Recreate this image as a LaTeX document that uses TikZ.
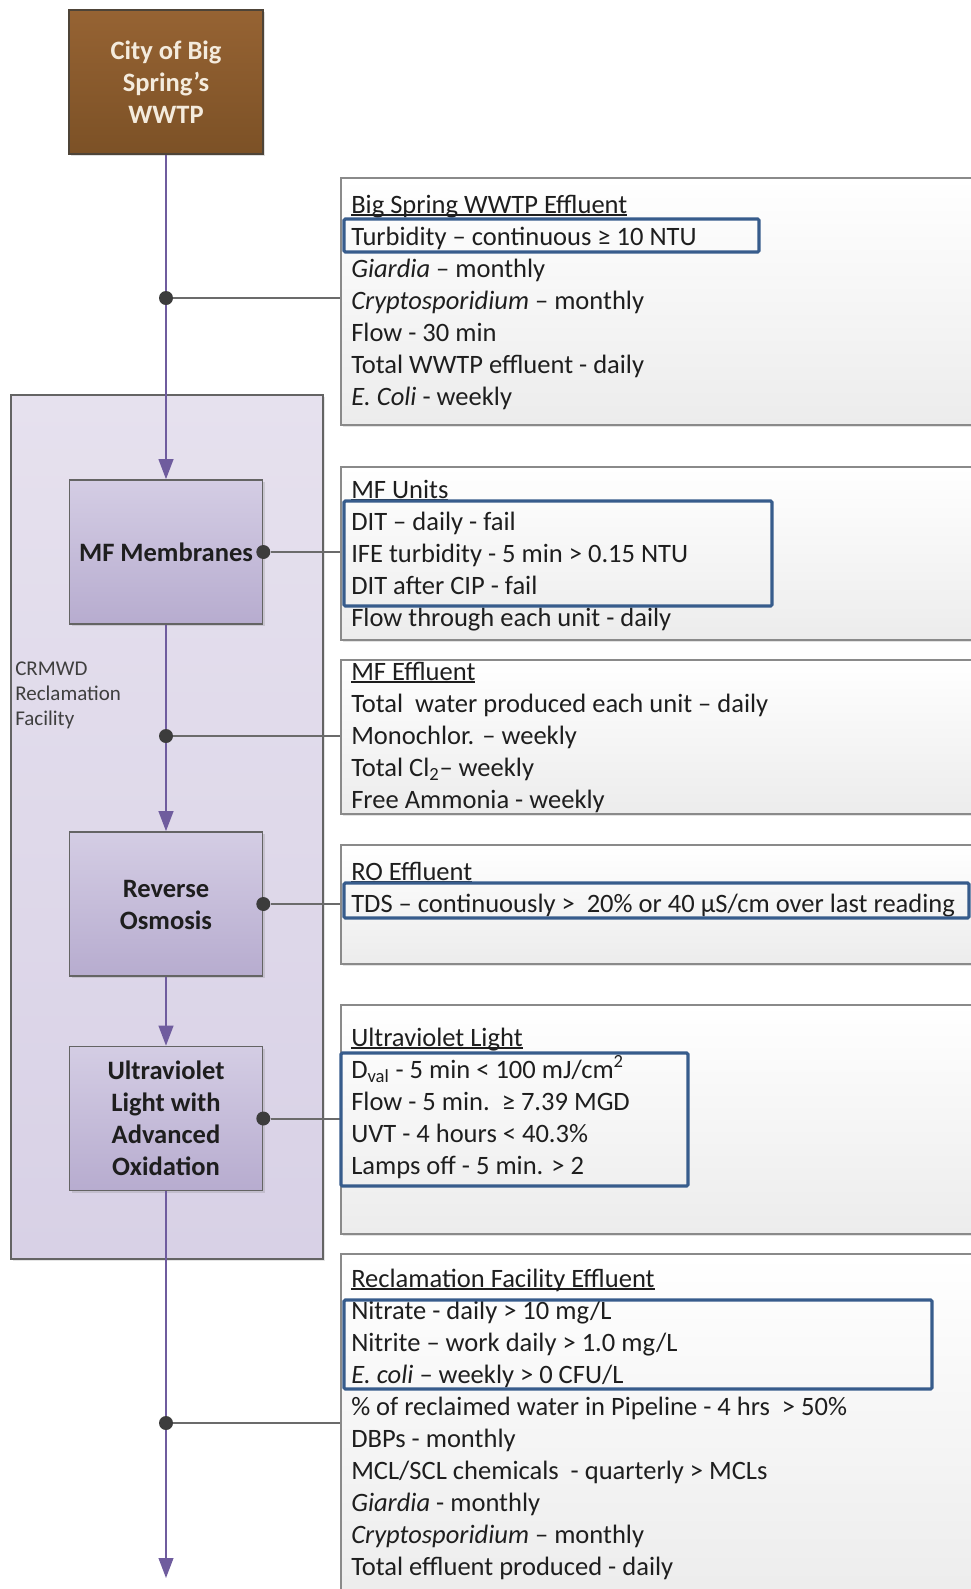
\documentclass[tikz,border=0pt]{standalone}
\usepackage{fontspec}
\setmainfont{Carlito}
\usetikzlibrary{arrows.meta,shadows}
\definecolor{brownA}{HTML}{966333}
\definecolor{brownB}{HTML}{7C5126}
\definecolor{brownEdge}{HTML}{4E4438}
\definecolor{brownTxt}{HTML}{F4EBDD}
\definecolor{lavA}{HTML}{D4CDE4}
\definecolor{lavB}{HTML}{B7ACCF}
\definecolor{contA}{HTML}{E6E1EE}
\definecolor{contB}{HTML}{D8D1E6}
\definecolor{flowc}{HTML}{6F5C9E}
\definecolor{linkc}{HTML}{6B6B6B}
\definecolor{dotc}{HTML}{3C3C3C}
\definecolor{edgec}{HTML}{646464}
\definecolor{infoEdge}{HTML}{8A8A8A}
\definecolor{infoB}{HTML}{ECECEC}
\definecolor{hilite}{HTML}{375C8C}
\definecolor{txtc}{HTML}{1E1E1E}
\definecolor{labc}{HTML}{3F3F3F}
\newcommand{\bigtext}{\fontsize{19.9}{24}\selectfont}
\newcommand{\smalltext}{\fontsize{15.75}{19.1}\selectfont}
\newcommand{\boxlines}[1]{\begin{tabular}[t]{@{}l@{}}#1\end{tabular}}
\newcommand{\vstrut}{\rule[-5.2pt]{0pt}{24pt}}
\newcommand{\ulx}[1]{\setbox0\hbox{#1}\rlap{\rule[-2pt]{\wd0}{1pt}}\box0}
\begin{document}
\begin{tikzpicture}[x=0.75pt,y=-0.75pt,
  procbox/.style={draw=edgec, line width=1.2pt, top color=lavA, bottom color=lavB,
    minimum width=144.75pt, minimum height=108pt, font=\bigtext\bfseries, text=txtc,
    align=center, inner sep=0pt,
    drop shadow={shadow xshift=1.5pt, shadow yshift=-1.5pt, opacity=0.25}},
  srcbox/.style={procbox, top color=brownA, bottom color=brownB, draw=brownEdge, text=brownTxt},
  infobox/.style={draw=infoEdge, line width=1.5pt, top color=white, bottom color=infoB,
    minimum width=487.5pt, anchor=north west, inner sep=0pt,
    drop shadow={shadow xshift=1.5pt, shadow yshift=-1.8pt, opacity=0.22}},
  infotext/.style={anchor=base west, inner sep=0pt, font=\bigtext, text=txtc},
  hl/.style={draw=hilite, line width=2.3pt, rounded corners=1pt},
  flow/.style={draw=flowc, line width=1.5pt, -{Triangle[length=15pt,width=11pt]}},
  link/.style={draw=linkc, line width=1.5pt},
  dotn/.style={circle, fill=dotc, minimum size=10.5pt, inner sep=0pt}
]
\useasboundingbox (0,0) rectangle (971,1589);
\fill[white] (0,0) rectangle (971,1589);
\clip (0,0) rectangle (971,1589);

% container
\node[draw=edgec, line width=1.3pt, top color=contA, bottom color=contB,
  minimum width=234pt, minimum height=648pt, anchor=north west, inner sep=0pt,
  drop shadow={shadow xshift=1.5pt, shadow yshift=-1.5pt, opacity=0.2}] (fac) at (10,394) {};
\node[anchor=base west, inner sep=0pt, font=\smalltext, text=labc] (faclab) at (15,675)
  {\boxlines{CRMWD\\Reclamation\\Facility}};

% process boxes
\node[srcbox, minimum width=145.5pt] (wwtp) at (166,82) {\vstrut City of Big\\Spring’s\\WWTP\vstrut};
\node[procbox] (mf) at (166,552) {MF Membranes};
\node[procbox] (ro) at (166,904) {\vstrut Reverse\\Osmosis\vstrut};
\node[procbox] (uv) at (166,1118.5) {\vstrut Ultraviolet\\Light with\\Advanced\\Oxidation\vstrut};
\coordinate (out) at (166,1578);

% info boxes
\node[infobox, minimum height=185.25pt] (b1) at (340,177) {};
\node[infobox, minimum height=129.75pt] (b2) at (340,466) {};
\node[infobox, minimum height=115.5pt] (b3) at (340,659) {};
\node[infobox, minimum height=89.25pt] (b4) at (340,844) {};
\node[infobox, minimum height=171.75pt] (b5) at (340,1004) {};
\node[infobox, minimum height=262pt] (b6) at (340,1253) {};

% flow
\draw[flow] (wwtp.south) -- (mf.north);
\draw[flow] (mf.south) -- (ro.north);
\draw[flow] (ro.south) -- (uv.north);
\draw[flow] (uv.south) -- (out);

% junction dots
\node[dotn] (d1) at (166,298) {};
\node[dotn] (d2) at (166,736) {};
\node[dotn] (d3) at (166,1423) {};
\node[dotn] (dmf) at (mf.east) {};
\node[dotn] (dro) at (ro.east) {};
\node[dotn] (duv) at (uv.east) {};

% links
\draw[link] (d1.east) -- (d1 -| b1.west);
\draw[link] (dmf.east) -- (dmf -| b2.west);
\draw[link] (d2.east) -- (d2 -| b3.west);
\draw[link] (dro.east) -- (dro -| b4.west);
\draw[link] (duv.east) -- (duv -| b5.west);
\draw[link] (d3.east) -- (d3 -| b6.west);

% texts
\node[infotext] (t1) at (351,213) {\boxlines{%
\ulx{Big Spring WWTP Effluent}\\
Turbidity – continuous ≥ 10 NTU\\
\textit{Giardia} – monthly\\
\textit{Cryptosporidium} – monthly\\
Flow - 30 min\\
Total WWTP effluent - daily\\
\textit{E. Coli} - weekly}};
\node[infotext] (t2) at (351,498) {\boxlines{%
\ulx{MF Units}\\
DIT – daily - fail\\
IFE turbidity - 5 min > 0.15 NTU\\
DIT after CIP - fail\\
Flow through each unit - daily}};
\node[infotext] (t3) at (351,680) {\boxlines{%
\ulx{MF Effluent}\\
Total\ \ water produced each unit – daily\\
Monochlor. – weekly\\
Total Cl\textsubscript{2}– weekly\\
Free Ammonia - weekly}};
\node[infotext] (t4) at (351,880) {\boxlines{%
\ulx{RO Effluent}\\
TDS – continuously >\ \ 20\% or 40 µS/cm over last reading}};
\node[infotext] (t5) at (351,1046) {\boxlines{%
\ulx{Ultraviolet Light}\\
D\textsubscript{val} - 5 min < 100 mJ/cm\textsuperscript{2}\\
Flow - 5 min.\ \ ≥ 7.39 MGD\\
UVT - 4 hours < 40.3\%\\
Lamps off - 5 min. > 2}};
\node[infotext] (t6) at (351,1287) {\boxlines{%
\ulx{Reclamation Facility Effluent}\\
Nitrate - daily > 10 mg/L\\
Nitrite – work daily > 1.0 mg/L\\
\textit{E. coli} – weekly > 0 CFU/L\\
\% of reclaimed water in Pipeline - 4 hrs\ \ > 50\%\\
DBPs - monthly\\
MCL/SCL chemicals\ \ - quarterly > MCLs\\
\textit{Giardia} - monthly\\
\textit{Cryptosporidium} – monthly\\
Total effluent produced - daily}};

% highlights
\draw[hl] (344,219) rectangle (759,252);
\draw[hl] (344,501) rectangle (772,606);
\draw[hl] (344,883) rectangle (969,918);
\draw[hl] (341,1053) rectangle (688,1186);
\draw[hl] (344,1300) rectangle (932,1389);
\end{tikzpicture}
\end{document}
